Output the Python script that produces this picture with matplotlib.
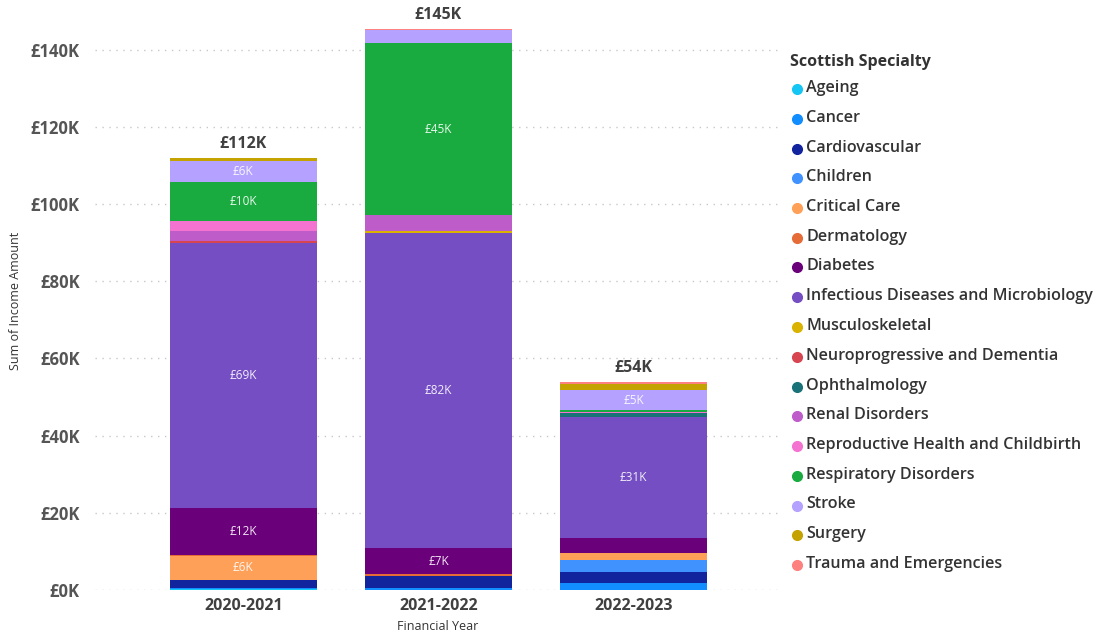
import matplotlib
matplotlib.use("Agg")
import matplotlib.pyplot as plt
from matplotlib.lines import Line2D
import numpy as np

plt.rcParams['font.family'] = ['Open Sans', 'DejaVu Sans']

years = ["2020-2021", "2021-2022", "2022-2023"]

specialties = [
    "Ageing", "Cancer", "Cardiovascular", "Children", "Critical Care",
    "Dermatology", "Diabetes", "Infectious Diseases and Microbiology",
    "Musculoskeletal", "Neuroprogressive and Dementia", "Ophthalmology",
    "Renal Disorders", "Reproductive Health and Childbirth",
    "Respiratory Disorders", "Stroke", "Surgery", "Trauma and Emergencies",
]

# Income in £K per specialty, one value per financial year
ageing         = [0.3, 0.0, 0.0]
cancer         = [0.3, 0.6, 1.7]
cardiovascular = [2.0, 2.9, 3.0]
children       = [0.0, 0.0, 3.0]
critical_care  = [6.2, 0.0, 2.0]
dermatology    = [0.3, 0.6, 0.0]
diabetes       = [12.1, 6.7, 3.9]
infectious     = [68.6, 81.8, 31.3]
musculo        = [0.0, 0.4, 0.0]
neuro          = [0.6, 0.0, 0.0]
ophthalmology  = [0.0, 0.0, 0.9]
renal          = [2.7, 4.1, 0.0]
reproductive   = [2.6, 0.0, 0.4]
respiratory    = [9.9, 44.6, 0.4]
stroke         = [5.6, 3.3, 5.2]
surgery        = [0.8, 0.0, 1.6]
trauma         = [0.0, 0.3, 0.6]

series = [ageing, cancer, cardiovascular, children, critical_care, dermatology,
          diabetes, infectious, musculo, neuro, ophthalmology, renal,
          reproductive, respiratory, stroke, surgery, trauma]

colors = ["#15C6F4", "#118DFF", "#12239E", "#4092FF", "#FFA058", "#E66C37",
          "#6B007B", "#744EC2", "#D9B300", "#D64550", "#197278", "#BE5DC9",
          "#F472D0", "#1AAB40", "#B5A1FF", "#C4A200", "#FD817E"]

W, H = 1111, 641
fig = plt.figure(figsize=(W / 100, H / 100), dpi=100)
ax = fig.add_axes([95 / W, (H - 590) / H, (780 - 95) / W, 579 / H])

x = np.arange(len(years))
bottom = np.zeros(len(years))
for vals, col in zip(series, colors):
    v = np.array(vals)
    ax.bar(x, v, width=0.75, bottom=bottom, color=col, linewidth=0, zorder=3)
    for xi, (b, h) in enumerate(zip(bottom, v)):
        if h >= 4.5:
            ax.text(xi, b + h / 2, f"£{h:.0f}K", ha="center", va="center",
                    color="white", fontsize=8.5, alpha=0.9, zorder=4)
    bottom += v

for xi, tot in enumerate(bottom):
    ax.text(xi, tot + 1.5, f"£{tot:.0f}K", ha="center", va="bottom",
            fontsize=11.5, fontweight="bold", color="#404040", zorder=4)

ax.set_xlim(-0.76, 2.75)
ax.set_ylim(0, 150)
ax.set_yticks(np.arange(0, 141, 20))
ax.set_yticklabels([f"£{t}K" for t in range(0, 141, 20)],
                   fontsize=12, fontweight="bold", color="#555555")
ax.set_xticks(x)
ax.set_xticklabels(years, fontsize=11.5, fontweight="bold", color="#404040")
ax.tick_params(axis="both", length=0, pad=6)
ax.tick_params(axis="y", pad=11)
ax.grid(axis="y", linestyle=(0, (1, 4)), color="#C8C8C8", linewidth=1, zorder=0)
for s in ax.spines.values():
    s.set_visible(False)

ax.set_xlabel("Financial Year", fontsize=9, color="#333333", labelpad=4)
ax.set_ylabel("Sum of Income Amount", fontsize=9, color="#333333", labelpad=6)

# Legend column on the right
fig.text(790 / W, 1 - 62 / H, "Scottish Specialty", fontsize=11.5,
         fontweight="bold", color="#333333", va="center", ha="left")
y0, step = 88, 29.75
for i, (name, col) in enumerate(zip(specialties, colors)):
    yy = 1 - (y0 + i * step) / H
    fig.add_artist(Line2D([797 / W], [yy - 1 / H], marker="o", markersize=7,
                          markerfacecolor=col, markeredgecolor=col,
                          transform=fig.transFigure))
    fig.text(806 / W, yy, name, fontsize=11.6, fontweight="semibold",
             color="#333333", va="center", ha="left")

fig.savefig("out.png", dpi=100, facecolor="white")
